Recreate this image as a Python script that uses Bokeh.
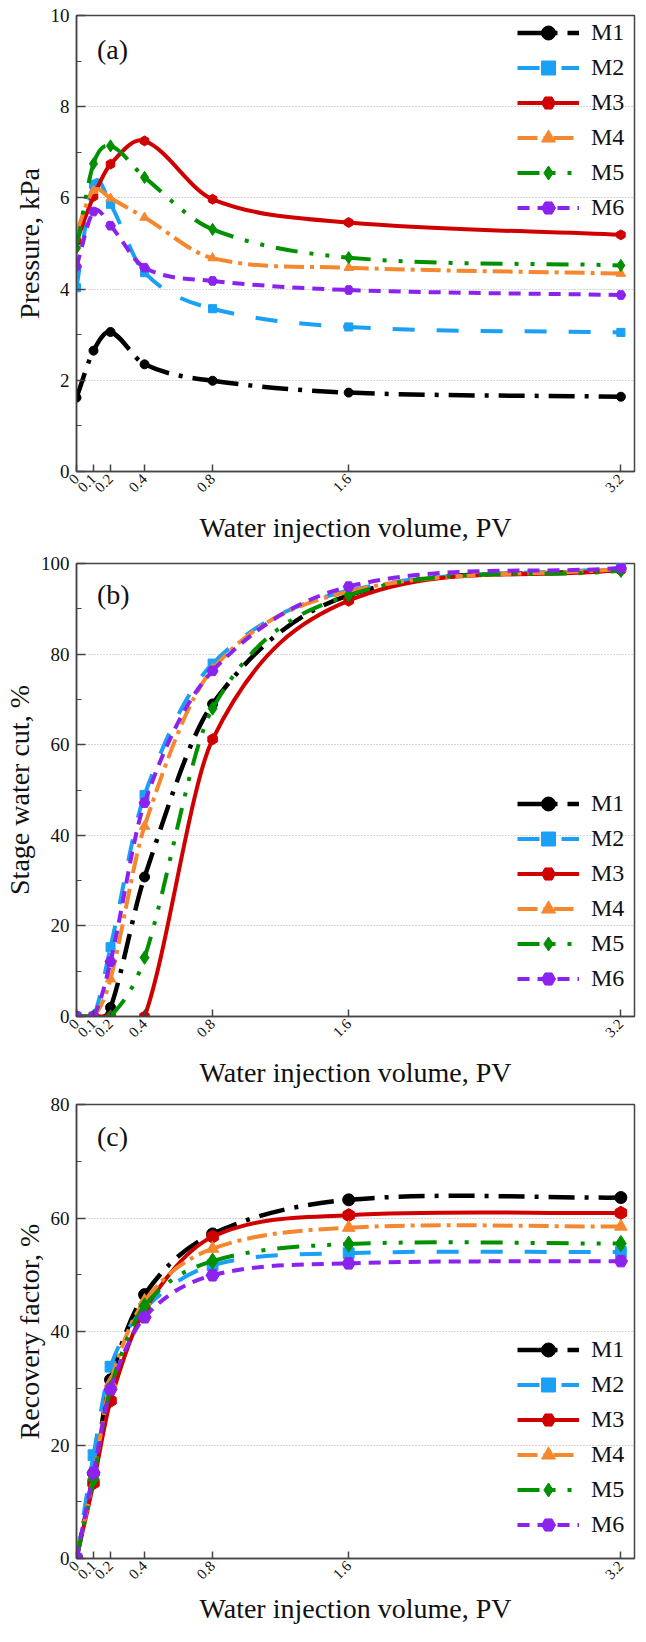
import math
import numpy as np
from bokeh.plotting import figure
from bokeh.models import Range1d, FixedTicker, Legend, LegendItem, Label
from bokeh.layouts import column
from bokeh.embed import file_html
from bokeh.resources import INLINE

# ---------------- data ----------------
pv = [0, 0.1, 0.2, 0.4, 0.8, 1.6, 3.2]
pv_labels = ["0", "0.1", "0.2", "0.4", "0.8", "1.6", "3.2"]
series_names = ["M1", "M2", "M3", "M4", "M5", "M6"]

pressure_M1 = [1.62, 2.65, 3.06, 2.35, 1.99, 1.73, 1.64]
pressure_M2 = [4.03, 6.30, 5.86, 4.36, 3.57, 3.17, 3.05]
pressure_M3 = [5.05, 6.03, 6.74, 7.25, 5.97, 5.46, 5.19]
pressure_M4 = [5.25, 6.16, 5.99, 5.57, 4.68, 4.47, 4.34]
pressure_M5 = [4.90, 6.75, 7.14, 6.45, 5.31, 4.69, 4.52]
pressure_M6 = [4.50, 5.70, 5.39, 4.47, 4.18, 3.98, 3.87]

watercut_M1 = [0, 0, 2.0, 30.8, 69.0, 93.0, 98.7]
watercut_M2 = [0, 0, 15.3, 48.9, 77.9, 94.0, 99.0]
watercut_M3 = [0, 0, 0, 0, 61.2, 91.8, 98.6]
watercut_M4 = [0, 0, 8.3, 42.0, 76.7, 93.8, 98.8]
watercut_M5 = [0, 0, 0, 13.0, 68.0, 93.0, 98.4]
watercut_M6 = [0, 0, 12.1, 47.2, 76.3, 94.9, 99.0]

recovery_M1 = [0, 15.0, 31.5, 46.5, 57.2, 63.2, 63.6]
recovery_M2 = [0, 18.2, 33.8, 44.0, 51.7, 53.8, 54.0]
recovery_M3 = [0, 13.3, 27.8, 43.8, 56.7, 60.5, 60.9]
recovery_M4 = [0, 14.5, 31.0, 45.4, 54.6, 58.3, 58.5]
recovery_M5 = [0, 14.0, 30.0, 44.5, 52.4, 55.4, 55.5]
recovery_M6 = [0, 15.1, 29.8, 42.5, 49.9, 52.0, 52.4]

# ---------------- styles ----------------
colors = ["#000000", "#1AA0F5", "#D00000", "#F5882F", "#009000", "#8B22EE"]
dashes = ["26 10 4 10", "22 22", "solid", "20 6 4 6", "22 12 4 12 4 12", "12 8"]
widths = [4.5, 4, 4, 4, 4, 4]
markers = ["circle", "square", "hex", "triangle", "diamond", "hex"]
angles = [0, 0, math.pi / 2, 0, 0, 0]
size_scale = [1.0, 0.9, 1.1, 1.05, 1.35, 1.1]
FONT = "'Liberation Serif', 'Times New Roman', serif"


def spline_segments(xs, ys):
    xs = np.asarray(xs, float)
    ys = np.asarray(ys, float)
    n = len(xs)
    m = np.zeros(n)
    m[0] = (ys[1] - ys[0]) / (xs[1] - xs[0])
    m[-1] = (ys[-1] - ys[-2]) / (xs[-1] - xs[-2])
    for i in range(1, n - 1):
        m[i] = (ys[i + 1] - ys[i - 1]) / (xs[i + 1] - xs[i - 1])
    h = xs[1:] - xs[:-1]
    return dict(x0=xs[:-1], y0=ys[:-1], x1=xs[1:], y1=ys[1:],
                cx0=xs[:-1] + h / 3, cy0=ys[:-1] + m[:-1] * h / 3,
                cx1=xs[1:] - h / 3, cy1=ys[1:] - m[1:] * h / 3)


def make_panel(data, ymax, yticks, yminor, ylabel, tag, tag_y, height,
               btop, bbottom, legend_vy, msize, xlab_standoff):
    p = figure(width=636, height=height, x_range=Range1d(0, 3.28),
               y_range=Range1d(0, ymax), output_backend="svg",
               toolbar_location=None, min_border_left=72, min_border_right=2,
               min_border_top=btop, min_border_bottom=bbottom)
    p.background_fill_color = "white"
    p.border_fill_color = "white"
    p.outline_line_color = "#444444"
    p.outline_line_width = 1.5

    # x axis
    xa = p.xaxis[0]
    xa.ticker = FixedTicker(ticks=pv)
    xa.major_label_overrides = {v: s for v, s in zip(pv, pv_labels)}
    xa.major_label_orientation = math.pi / 4
    xa.major_label_text_font = FONT
    xa.major_label_text_font_size = "15px"
    xa.major_label_text_color = "#111111"
    xa.major_label_standoff = 5
    xa.major_tick_in = 7
    xa.major_tick_out = 0
    xa.minor_tick_line_color = None
    xa.axis_line_color = "#444444"
    xa.axis_line_width = 1.5
    xa.major_tick_line_color = "#444444"
    xa.major_tick_line_width = 1.5
    xa.axis_label = "Water injection volume, PV"
    xa.axis_label_text_font = FONT
    xa.axis_label_text_font_size = "28px"
    xa.axis_label_text_font_style = "normal"
    xa.axis_label_text_color = "#111111"
    xa.axis_label_standoff = xlab_standoff

    # y axis
    ya = p.yaxis[0]
    ya.ticker = FixedTicker(ticks=yticks, minor_ticks=yminor)
    ya.major_label_text_font = FONT
    ya.major_label_text_font_size = "19px"
    ya.major_label_text_color = "#111111"
    ya.major_label_standoff = 7
    ya.major_tick_in = 9
    ya.major_tick_out = 0
    ya.minor_tick_in = 5
    ya.minor_tick_out = 0
    ya.axis_line_color = "#444444"
    ya.axis_line_width = 1.5
    ya.major_tick_line_color = "#444444"
    ya.major_tick_line_width = 1.5
    ya.minor_tick_line_color = "#444444"
    ya.minor_tick_line_width = 1.2
    ya.axis_label = ylabel
    ya.axis_label_text_font = FONT
    ya.axis_label_text_font_size = "28px"
    ya.axis_label_text_font_style = "normal"
    ya.axis_label_text_color = "#111111"
    ya.axis_label_standoff = 3

    p.xgrid.visible = False
    p.ygrid.grid_line_color = "#AAAAAA"
    p.ygrid.grid_line_dash = "1 2"
    p.ygrid.grid_line_width = 1

    items = []
    for k, ys in enumerate(data):
        seg = spline_segments(pv, ys)
        b = p.bezier(line_color=colors[k], line_width=widths[k],
                     line_dash=dashes[k], **seg)
        s = p.scatter(pv, ys, marker=markers[k], size=msize * size_scale[k],
                      angle=angles[k], fill_color=colors[k],
                      line_color=colors[k])
        items.append(LegendItem(label=series_names[k], renderers=[b, s]))

    leg = Legend(items=items, location=(441, legend_vy))
    leg.label_text_font = FONT
    leg.label_text_font_size = "24px"
    leg.label_text_color = "#111111"
    leg.glyph_width = 62
    leg.glyph_height = 35
    leg.label_height = 35
    leg.label_standoff = 12
    leg.spacing = 0
    leg.padding = 0
    leg.margin = 0
    leg.background_fill_alpha = 0
    leg.border_line_alpha = 0
    p.add_layout(leg)

    p.add_layout(Label(x=0.12, y=tag_y, text=tag, text_font=FONT,
                       text_font_size="28px", text_baseline="middle",
                       text_align="left", text_color="#111111"))
    return p


pa = make_panel([pressure_M1, pressure_M2, pressure_M3, pressure_M4,
                 pressure_M5, pressure_M6],
                10, [0, 2, 4, 6, 8, 10], [1, 3, 5, 7, 9], "Pressure, kPa",
                "(a)", 9.25, 549, 15, 78, 246, 9, 12)
pb = make_panel([watercut_M1, watercut_M2, watercut_M3, watercut_M4,
                 watercut_M5, watercut_M6],
                100, [0, 20, 40, 60, 80, 100], [10, 30, 50, 70, 90],
                "Stage water cut, %", "(b)", 93.2, 545, 14, 78, 20, 10, 12)
pc = make_panel([recovery_M1, recovery_M2, recovery_M3, recovery_M4,
                 recovery_M5, recovery_M6],
                80, [0, 20, 40, 60, 80], [10, 30, 50, 70],
                "Recovery factor, %", "(c)", 74.4, 532, 10, 68, 16, 12, 6)

layout = column(pa, pb, pc, spacing=0)
open("out.html", "w").write(file_html(layout, INLINE))
